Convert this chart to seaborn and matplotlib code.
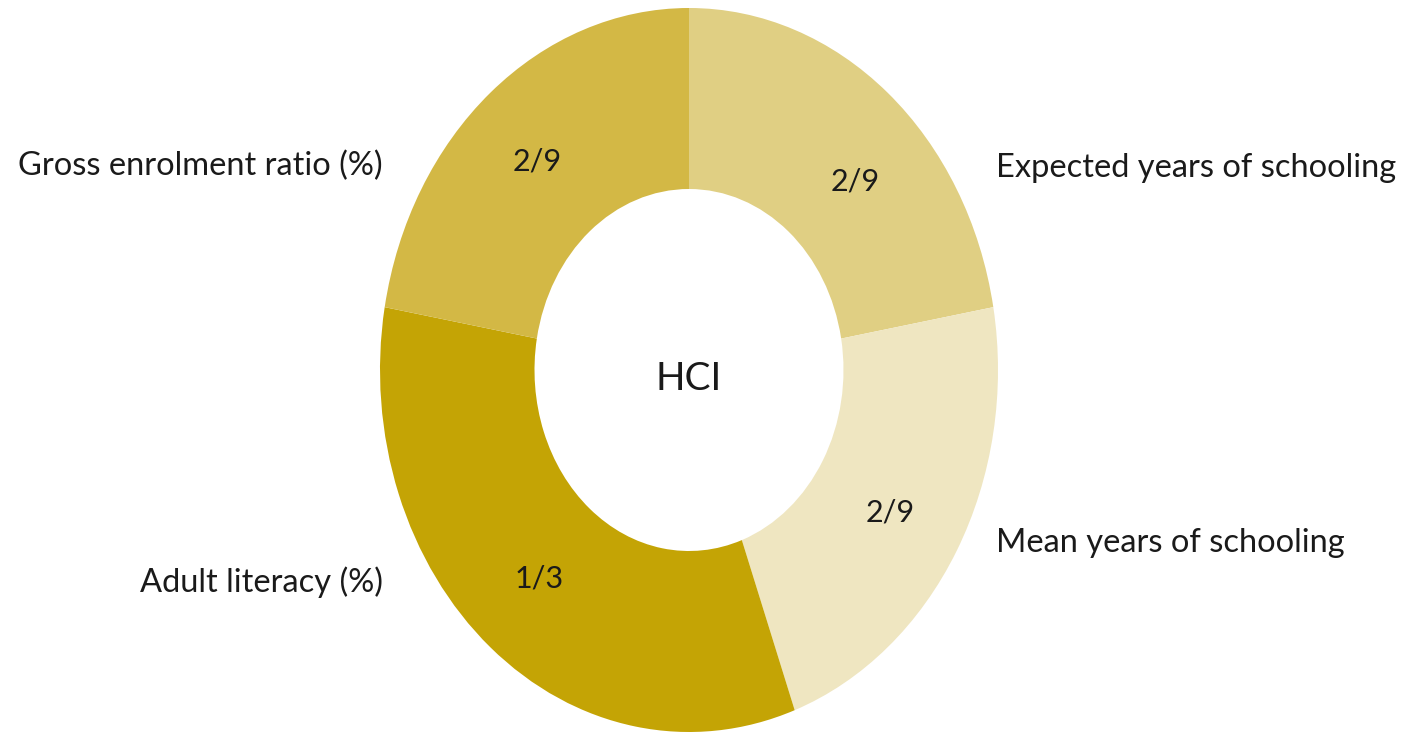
import matplotlib
matplotlib.use("Agg")
import matplotlib.pyplot as plt
import seaborn as sns

categories = ['Expected years of schooling', 'Mean years of schooling',
              'Adult literacy (%)', 'Gross enrolment ratio (%)']
weights = [2 / 9, 2 / 9, 1 / 3, 2 / 9]
weight_labels = ['2/9', '2/9', '1/3', '2/9']
center_label = 'HCI'

colors = ['#E0CF83', '#EFE6C1', '#C4A405', '#D3B845']
# layout: where the fraction labels sit inside the ring, and baseline of outer labels
frac_pos = [(0.537, 0.522), (0.65, -0.395), (-0.485, -0.575), (-0.49, 0.575)]
label_y = [0.533, -0.503, -0.613, 0.539]

sns.set_theme(style='white')
plt.rcParams['font.family'] = ['Lato', 'DejaVu Sans']

fig = plt.figure(figsize=(14.06, 7.35), dpi=100)
ax = fig.add_axes([380 / 1406, 3 / 735, 618 / 1406, 724 / 735])

wedges, texts = ax.pie(weights, colors=colors, startangle=90, counterclock=False,
                       labels=weight_labels, labeldistance=0.75,
                       wedgeprops=dict(width=0.5, linewidth=0),
                       textprops=dict(fontsize=22, color='#1a1a1a'))
for t, pos in zip(texts, frac_pos):
    t.set_position(pos)
    t.set_ha('center')
    t.set_va('center')

ax.text(0, -0.055, center_label, ha='center', va='baseline', fontsize=28, color='#1a1a1a')

for w, name, y in zip(wedges, categories, label_y):
    mid = (w.theta1 + w.theta2) / 2 % 360
    right = mid < 90 or mid > 270
    ax.text(0.994 if right else -0.99, y, name, ha='left' if right else 'right',
            va='baseline', fontsize=23.5, color='#1a1a1a', clip_on=False)

ax.set_aspect('auto')
ax.set_xlim(-1, 1)
ax.set_ylim(-1, 1)
ax.axis('off')

fig.savefig('out.png', dpi=100, facecolor='white')
